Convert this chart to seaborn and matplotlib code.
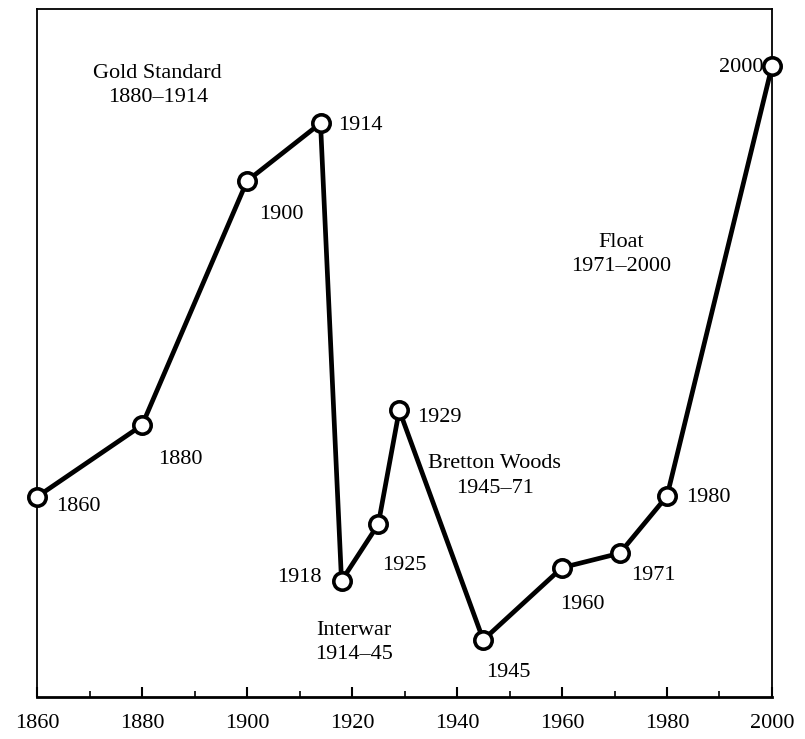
import matplotlib
matplotlib.use("Agg")
import matplotlib.pyplot as plt
import seaborn as sns
import pandas as pd
from matplotlib.ticker import MultipleLocator

# capital mobility index (no scale shown)
years = [1860, 1880, 1900, 1914, 1918, 1925, 1929, 1945, 1960, 1971, 1980, 2000]
mobility = [29.1, 39.5, 75.0, 83.4, 16.9, 25.1, 41.7, 8.3, 18.8, 20.9, 29.2, 91.7]

# label offsets (pixels) from each point
label_dx = [41, 38, 34, 40, -42, 26, 40, 25, 20, 34, 41, -31]
label_dy = [-10, -34, -33, -2, 3, -41, -7, -33, -37, -22, -1, -1]

regimes = ["Gold Standard\n1880–1914", "Interwar\n1914–45",
           "Bretton Woods\n1945–71", "Float\n1971–2000"]
regime_x = [1883, 1920.3, 1947.2, 1971.2]
regime_y = [88.9, 7.9, 32.1, 64.3]

sns.set_theme(style="ticks")
plt.rcParams["font.family"] = ["Liberation Serif", "DejaVu Serif"]
plt.rcParams["text.color"] = "black"

df = pd.DataFrame({"year": years, "index": mobility})

fig = plt.figure(figsize=(8.05, 7.39), dpi=100)
ax = fig.add_axes([0.046, 0.0568, 0.913, 0.931])

sns.lineplot(data=df, x="year", y="index", ax=ax, color="black", linewidth=3.4,
             marker="o", markersize=12.5, markerfacecolor="white",
             markeredgecolor="black", markeredgewidth=2.6, clip_on=False,
             zorder=5)

for yr, val, dx, dy in zip(years, mobility, label_dx, label_dy):
    ax.annotate(str(yr), (yr, val), xytext=(dx, dy), textcoords="offset pixels",
                ha="center", va="center", fontsize=16, color="black")

for txt, x, y in zip(regimes, regime_x, regime_y):
    ax.text(x, y, txt, ha="center", va="center", fontsize=16, linespacing=1.4,
            color="black")

ax.set_xlim(1860, 2000)
ax.set_ylim(0, 100)
ax.set_xlabel("")
ax.set_ylabel("")
ax.set_yticks([])
ax.xaxis.set_major_locator(MultipleLocator(20))
ax.xaxis.set_minor_locator(MultipleLocator(10))
ax.tick_params(axis="x", which="major", direction="in", length=7, width=1.5,
               labelsize=16, pad=12, color="black", labelcolor="black")
ax.tick_params(axis="x", which="minor", direction="in", length=4, width=1.2,
               color="black")
for side in ["left", "top", "right"]:
    ax.spines[side].set_visible(True)
    ax.spines[side].set_color("black")
    ax.spines[side].set_linewidth(1.3)
ax.spines["bottom"].set_color("black")
ax.spines["bottom"].set_linewidth(2)

fig.savefig("out.png", dpi=100)
